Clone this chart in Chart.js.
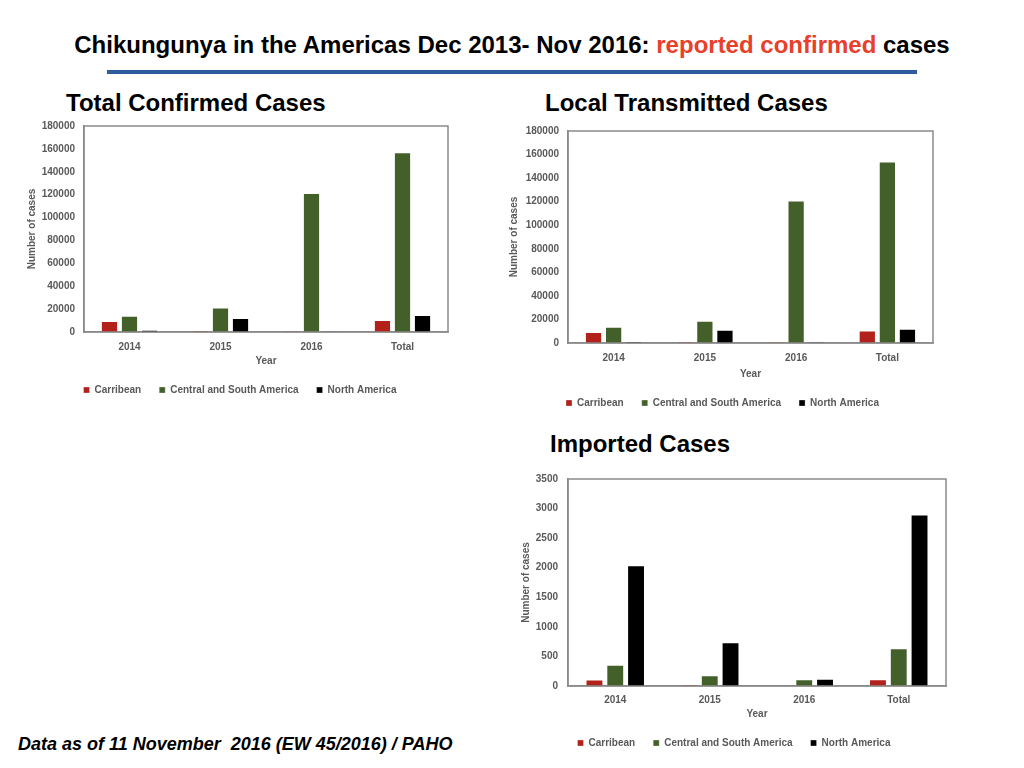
<!DOCTYPE html>
<html>
<head>
<meta charset="utf-8">
<script src="https://cdn.jsdelivr.net/npm/chart.js@4.4.1/dist/chart.umd.min.js"></script>
<style>
  html, body { margin:0; padding:0; background:#fff; }
  body { width:1024px; height:768px; position:relative; overflow:hidden; font-family:"Liberation Sans", Arial, sans-serif; }
  .abs { position:absolute; white-space:nowrap; }
  #title { left:0; width:1024px; top:31px; text-align:center; font-weight:bold; font-size:24px; color:#000; line-height:28px; }
  #title .red { color:#E8402A; }
  #rule { left:107px; top:70px; width:810px; height:4px; background:#2F5C9A; }
  .sec { font-weight:bold; font-size:24px; color:#000; line-height:28px; }
  #footer { left:18px; top:733px; font-weight:bold; font-style:italic; font-size:18px; line-height:22px; color:#000; }
  .box { position:absolute; }
</style>
</head>
<body>
<div id="title" class="abs">Chikungunya in the Americas Dec 2013- Nov 2016: <span class="red">reported confirmed</span> cases</div>
<div id="rule" class="abs"></div>
<div class="abs sec" style="left:66px; top:89px;">Total Confirmed Cases</div>
<div class="abs sec" style="left:545px; top:89px;">Local Transmitted Cases</div>
<div class="abs sec" style="left:550px; top:430px;">Imported Cases</div>
<div id="footer" class="abs">Data as of 11 November&nbsp; 2016 (EW 45/2016) / PAHO</div>

<div class="box" id="b1"><canvas id="c1"></canvas></div>
<div class="box" id="b2"><canvas id="c2"></canvas></div>
<div class="box" id="b3"><canvas id="c3"></canvas></div>

<script>
// ---- data ----
const categories = ["2014", "2015", "2016", "Total"];
const seriesNames = ["Carribean", "Central and South America", "North America"];

const totalCarribean = [9600, 1500, 700, 10500];
const totalCentralSouth = [14200, 21500, 121500, 157000];
const totalNorthAmerica = [2000, 12200, 600, 14800];

const localCarribean = [9300, 1100, 900, 10700];
const localCentralSouth = [13800, 18900, 120900, 154200];
const localNorthAmerica = [1100, 11300, 800, 12100];

const importedCarribean = [110, 28, 3, 113];
const importedCentralSouth = [361, 180, 113, 638];
const importedNorthAmerica = [2043, 739, 124, 2900];

const yMaxTotal = 180000, yStepTotal = 20000;
const yMaxLocal = 180000, yStepLocal = 20000;
const yMaxImported = 3500, yStepImported = 500;

// ---- styles ----
const colors = ["#B3211B", "#44602A", "#000000"];
const FONT = "'Liberation Sans', Arial, sans-serif";
const GREY = "#595959";

const framePlugin = {
  id: 'frame',
  afterDatasetsDraw(chart) {
    const {ctx, chartArea:a} = chart;
    ctx.save();
    ctx.strokeStyle = '#8a8a8a';
    ctx.lineWidth = 1.5;
    ctx.strokeRect(a.left, a.top, a.right - a.left, a.bottom - a.top);
    ctx.restore();
  }
};

function makeChart(id, boxId, g, values, yMax, yStep) {
  const LEG_PAD = 18;
  const TOP_PAD = 20;
  const legendTop = g.legendY - (LEG_PAD + 5);
  const L = g.L, T = g.plotTop - TOP_PAD;
  const W = g.plotRight + 12 - L;
  const H = legendTop + 38 - T;
  const box = document.getElementById(boxId);
  box.style.left = L + 'px'; box.style.top = T + 'px';
  box.style.width = W + 'px'; box.style.height = H + 'px';
  const yAxisW = g.plotLeft - L;
  const xAxisH = legendTop - g.plotBottom;
  const tickFont = { family: FONT, size: 10, weight: 'bold' };
  new Chart(document.getElementById(id), {
    type: 'bar',
    data: {
      labels: categories,
      datasets: values.map((v, i) => ({
        label: seriesNames[i],
        data: v,
        backgroundColor: colors[i],
        borderColor: 'rgba(255,255,255,0.3)',
        borderWidth: 1,
        categoryPercentage: 0.66,
        barPercentage: 0.86
      }))
    },
    options: {
      responsive: true,
      maintainAspectRatio: false,
      animation: false,
      devicePixelRatio: 1,
      layout: { padding: { left: 0, right: 0, top: TOP_PAD, bottom: 0 } },
      plugins: {
        tooltip: { enabled: false },
        legend: {
          position: 'bottom',
          labels: {
            boxWidth: 6, boxHeight: 6, padding: LEG_PAD,
            color: GREY,
            font: tickFont
          }
        }
      },
      scales: {
        x: {
          grid: { display: false, drawTicks: false },
          border: { display: true, color: '#8a8a8a', width: 1.5 },
          ticks: { color: GREY, padding: g.xTickPad, font: tickFont },
          title: { display: true, text: 'Year', color: GREY, padding: { top: 0, bottom: 0 }, font: tickFont },
          afterFit(s) { s.height = xAxisH; }
        },
        y: {
          min: 0, max: yMax,
          grid: { display: false, drawTicks: false },
          border: { display: true, color: '#8a8a8a', width: 1.5 },
          ticks: { stepSize: yStep, color: GREY, padding: g.yTickPad, font: tickFont,
                   callback: (v) => String(v) },
          title: { display: true, text: 'Number of cases', color: GREY, padding: { top: g.yTitlePad, bottom: 0 }, font: tickFont },
          afterFit(s) { s.width = yAxisW; }
        },
        ySpacer: {
          position: 'right',
          display: true,
          grid: { display: false, drawTicks: false },
          border: { display: false },
          ticks: { display: false },
          afterFit(s) { s.width = 12; }
        }
      }
    },
    plugins: [framePlugin]
  });
}

makeChart('c1', 'b1',
  { L: 20, plotLeft: 84, plotRight: 448, plotTop: 126, plotBottom: 332, legendY: 390, xTickPad: 9, yTickPad: 9, yTitlePad: 6 },
  [totalCarribean, totalCentralSouth, totalNorthAmerica], yMaxTotal, yStepTotal);

makeChart('c2', 'b2',
  { L: 500, plotLeft: 568, plotRight: 933, plotTop: 131, plotBottom: 343, legendY: 403, xTickPad: 9, yTickPad: 9, yTitlePad: 8 },
  [localCarribean, localCentralSouth, localNorthAmerica], yMaxLocal, yStepLocal);

makeChart('c3', 'b3',
  { L: 510, plotLeft: 568, plotRight: 946, plotTop: 479, plotBottom: 686, legendY: 743, xTickPad: 8, yTickPad: 10, yTitlePad: 10 },
  [importedCarribean, importedCentralSouth, importedNorthAmerica], yMaxImported, yStepImported);
</script>
</body>
</html>
